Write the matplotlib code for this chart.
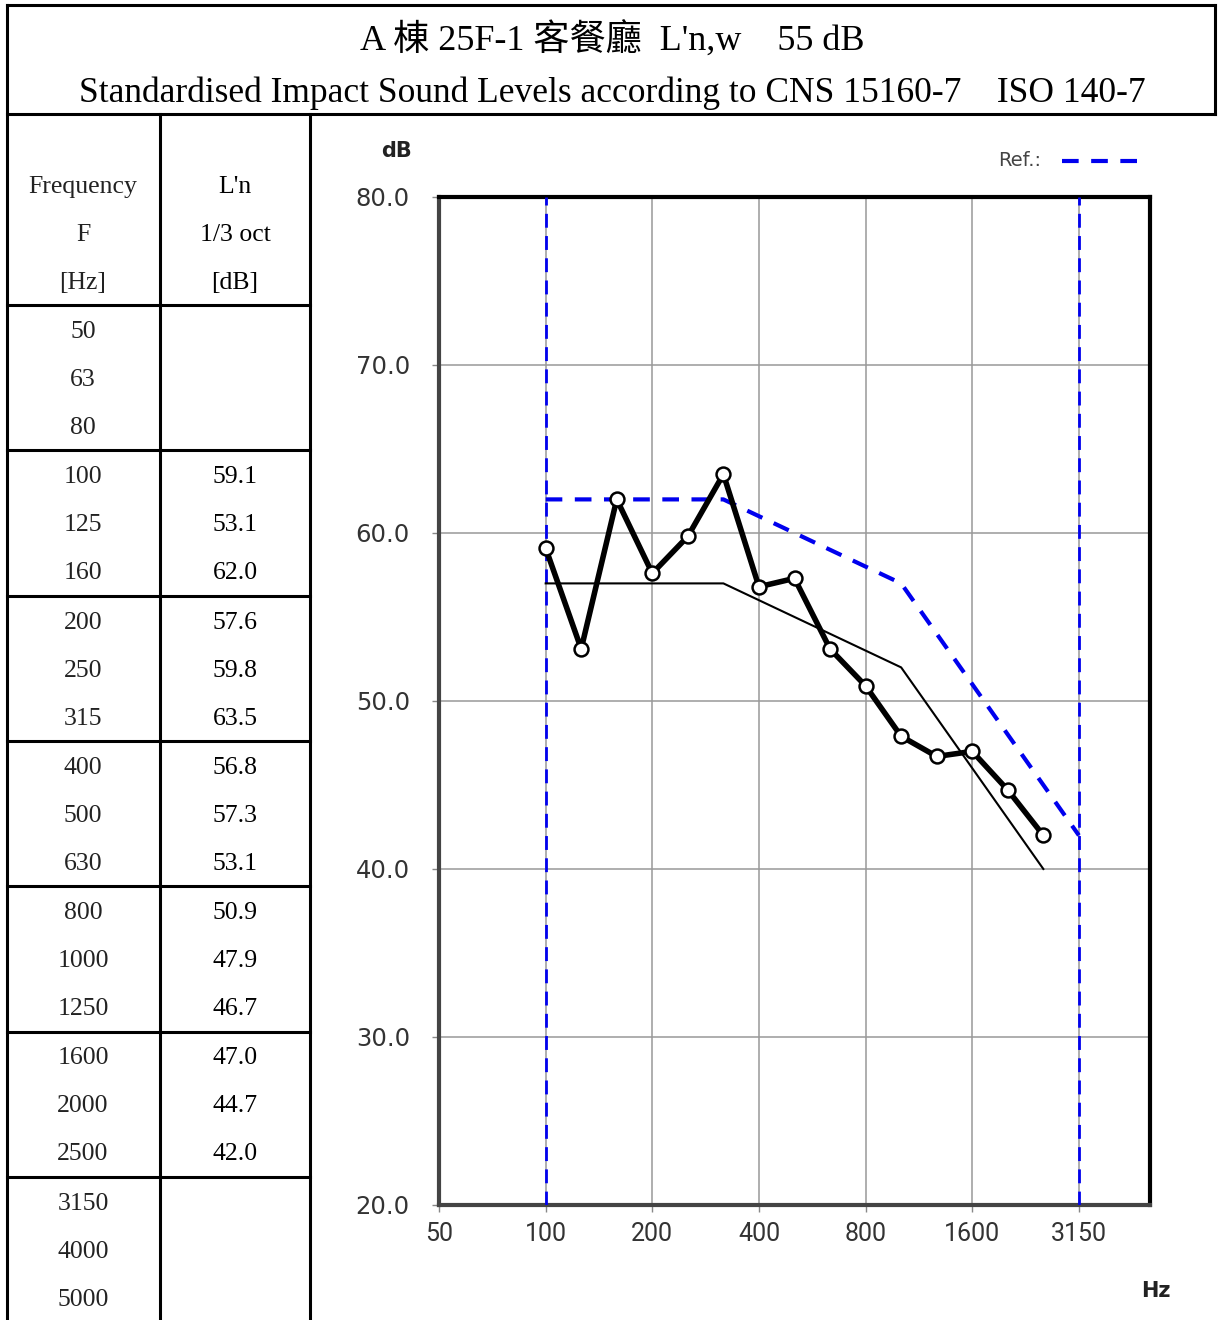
import numpy as np
import matplotlib
matplotlib.use("Agg")
import matplotlib.pyplot as plt
from matplotlib.lines import Line2D

# figure size in pixels
W, H = 1218, 1320

# 1/3 octave bands 50 .. 5000 Hz
bands = ['50', '63', '80', '100', '125', '160', '200', '250', '315', '400',
         '500', '630', '800', '1000', '1250', '1600', '2000', '2500',
         '3150', '4000', '5000']
# measured L'n, 100 .. 2500 Hz
ln_values = [59.1, 53.1, 62.0, 57.6, 59.8, 63.5, 56.8, 57.3, 53.1,
             50.9, 47.9, 46.7, 47.0, 44.7, 42.0]
# reference curve (blue dashed), 100 .. 3150 Hz
ref_values = [62, 62, 62, 62, 62, 62, 61, 60, 59, 58, 57, 54, 51, 48, 45, 42]
# shifted reference curve (thin black), 100 .. 2500 Hz
shifted_values = [57, 57, 57, 57, 57, 57, 56, 55, 54, 53, 52, 49, 46, 43, 40]

xtick_labels = ['50', '100', '200', '400', '800', '1600', '3150']
yticks = [20, 30, 40, 50, 60, 70, 80]

title1 = "A 棟 25F-1 客餐廳  L'n,w    55 dB"
title2 = "Standardised Impact Sound Levels according to CNS 15160-7    ISO 140-7"
header1 = ['Frequency', 'F', '[Hz]']
header2 = ["L'n", '1/3 oct', '[dB]']

def fx(px):
    return px / W

def fy(py):
    return 1 - py / H

fig = plt.figure(figsize=(W / 100, H / 100), dpi=100)
fig.patch.set_facecolor('white')

serif = ['Liberation Serif', 'Noto Sans CJK TC', 'DejaVu Serif']

# ---- frame / table lines ----
def hline(y, x0, x1, lw=2.2):
    fig.add_artist(Line2D([fx(x0), fx(x1)], [fy(y), fy(y)], color='black', lw=lw,
                          solid_capstyle='projecting'))

def vline(x, y0, y1, lw=2.2):
    fig.add_artist(Line2D([fx(x), fx(x)], [fy(y0), fy(y1)], color='black', lw=lw,
                          solid_capstyle='projecting'))

hline(5, 7, 1215)
hline(114, 7, 1215)
vline(7, 5, 1320)
vline(1215, 5, 114)
vline(160, 114, 1320)
vline(310, 114, 1320)
hline(305, 7, 310)
group_tops = [305 + 145.3 * k for k in range(7)]
for gt in group_tops[1:]:
    hline(gt, 7, 310)

# ---- titles ----
fig.text(fx(612), fy(40), title1, family=serif, fontsize=26, ha='center', va='center')
fig.text(fx(612), fy(93), title2, family=serif, fontsize=25.5, ha='center', va='center')

# ---- table text ----
col1_x, col2_x = 83, 235
for i, (a, b) in enumerate(zip(header1, header2)):
    y = 187 + 48 * i
    fig.text(fx(col1_x), fy(y), a, family=serif, fontsize=18.5, color='#222222',
             ha='center', va='center')
    fig.text(fx(col2_x), fy(y), b, family=serif, fontsize=18.5, color='black',
             ha='center', va='center')

for i, f in enumerate(bands):
    g, r = divmod(i, 3)
    y = group_tops[g] + 27 + 48 * r
    fig.text(fx(col1_x), fy(y), f, family=serif, fontsize=18.5, color='#222222',
             ha='center', va='center')
    if 3 <= i < 3 + len(ln_values):
        fig.text(fx(col2_x), fy(y), f"{ln_values[i - 3]:.1f}", family=serif,
                 fontsize=18.5, color='black', ha='center', va='center')

# ---- chart ----
ax_l, ax_r, ax_t, ax_b = 439, 1150, 197, 1205
ax = fig.add_axes([fx(ax_l), fy(ax_b), (ax_r - ax_l) / W, (ax_b - ax_t) / H])
ax.set_xlim(0, 20)
ax.set_ylim(20, 80)

xi = np.arange(len(bands))
ax.set_xticks(xi[0::3][:7])
ax.set_xticklabels(xtick_labels, family='Roboto', fontsize=18, color='#333333')
ax.set_yticks(yticks)
ax.set_yticklabels([f"{v:.1f}" for v in yticks], family='DejaVu Sans',
                   fontsize=17.5, color='#333333')
ax.tick_params(axis='both', length=5, width=1, color='#888888')
ax.tick_params(axis='x', pad=7)
ax.tick_params(axis='y', pad=16)
ax.grid(True, color='#999999', lw=1.1)
ax.set_axisbelow(True)

for side in ['top', 'right']:
    ax.spines[side].set_color('black')
    ax.spines[side].set_linewidth(3)
for side in ['left', 'bottom']:
    ax.spines[side].set_color('#444444')
    ax.spines[side].set_linewidth(3)

blue = '#0000ee'
# boundaries of the evaluation range
for b in ['100', '3150']:
    ax.axvline(bands.index(b), color=blue, lw=2, ls=(0, (5, 3)), zorder=3)

x_meas = xi[3:3 + len(ln_values)]
x_ref = xi[3:3 + len(ref_values)]
x_shift = xi[3:3 + len(shifted_values)]

ax.plot(x_ref, ref_values, color=blue, lw=3, ls=(0, (4, 3)), zorder=4)
ax.plot(x_shift, shifted_values, color='black', lw=1.5, zorder=4)
ax.plot(x_meas, ln_values, color='black', lw=4, marker='o', markersize=10,
        markerfacecolor='white', markeredgecolor='black', markeredgewidth=1.8,
        zorder=5)

# axis labels and legend
fig.text(fx(396), fy(151), 'dB', family='DejaVu Sans', fontweight='bold',
         fontsize=15, color='#222222', ha='center', va='center')
fig.text(fx(1156), fy(1291), 'Hz', family='DejaVu Sans', fontweight='bold',
         fontsize=15, color='#222222', ha='center', va='center')
fig.text(fx(998), fy(160), 'Ref.:', family='DejaVu Sans', fontsize=14,
         color='#444444', ha='left', va='center')
fig.add_artist(Line2D([fx(1062), fx(1137)], [fy(161), fy(161)], color=blue, lw=3,
                      ls=(0, (4, 3))))

fig.savefig('out.png', dpi=100, facecolor='white')
